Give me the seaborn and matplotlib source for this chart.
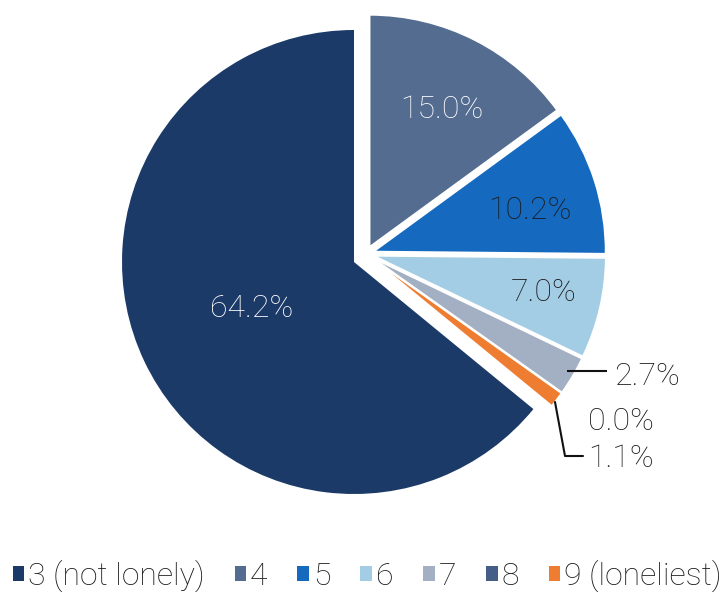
import numpy as np
import matplotlib
matplotlib.use("Agg")
import matplotlib.pyplot as plt
import seaborn as sns
from matplotlib.patches import Patch

# ---- data ----
categories = ["3 (not lonely)", "4", "5", "6", "7", "8", "9 (loneliest)"]
shares = [64.2, 15.0, 10.2, 7.0, 2.7, 0.0, 1.1]
pct_labels = [f"{v:.1f}%" for v in shares]

# ---- style ----
colors = ["#1B3A67", "#536C8F", "#1569BE", "#A3CDE4", "#A3AFC2", "#455E88", "#EE7D31"]
inside_label_r = [0.481, 0.679, 0.70, 0.748]
inside_label_dang = [-2.5, -0.4, -2.0, 1.9]
inside_label_col = ["white", "white", "#1a1a1a", "#1a1a1a"]

sns.set_theme(style="white")
plt.rcParams["font.family"] = ["Roboto", "DejaVu Sans"]
plt.rcParams["font.weight"] = "light"
FS = 23
TXT = "#1a1a1a"

W, H = 727, 592
R = 232.0
CX, CY = 354.0, 262.0
CAP_HALF = 11.5  # px from visual centre of digits to baseline


def p(x, y):
    return ((x - CX) / R, (CY - y) / R)


fig = plt.figure(figsize=(W / 100, H / 100), dpi=100)
ax = fig.add_axes([0, 0, 1, 1])

total = sum(shares)
start = 90 + shares[0] / total * 360

# main slice
w1, _ = ax.pie(shares, colors=[colors[0]] + ["none"] * 6, startangle=start,
               counterclock=False, wedgeprops=dict(linewidth=0))
for w in w1[1:]:
    w.set_visible(False)

# exploded group
gx, gy = 12 / R, 8 / R
w2, _ = ax.pie(shares, colors=["none"] + colors[1:], startangle=start,
               counterclock=False, explode=[0] + [8 / R] * 6, center=(gx, gy),
               wedgeprops=dict(linewidth=1.2, edgecolor="white"))
w2[0].set_visible(False)

wedges = [w1[0]] + list(w2[1:])
for i in range(4):
    w = wedges[i]
    ang = np.deg2rad((w.theta1 + w.theta2) / 2 + inside_label_dang[i])
    cx, cy = w.center
    r = inside_label_r[i]
    ax.text(cx + r * np.cos(ang), cy + r * np.sin(ang) - CAP_HALF / R, pct_labels[i],
            ha="center", va="baseline", color=inside_label_col[i], fontsize=FS)

# outside labels with leader lines
lc = "#111111"
x0, y0 = p(567, 371); x1, y1 = p(607, 371)
ax.plot([x0, x1], [y0, y1], color=lc, lw=1.5, solid_capstyle="butt")
tx, ty = p(614, 385)
ax.text(tx, ty, pct_labels[4], ha="left", va="baseline", color=TXT, fontsize=FS)
tx, ty = p(588, 430)
ax.text(tx, ty, pct_labels[5], ha="left", va="baseline", color=TXT, fontsize=FS)
pts = [p(555, 402), p(565, 456), p(583, 456)]
ax.plot([q[0] for q in pts], [q[1] for q in pts], color=lc, lw=1.5)
tx, ty = p(588, 467)
ax.text(tx, ty, pct_labels[6], ha="left", va="baseline", color=TXT, fontsize=FS)

ax.set_aspect("auto")
ax.set_xlim(-CX / R, (W - CX) / R)
ax.set_ylim(-(H - CY) / R, CY / R)
ax.axis("off")

handles = [Patch(facecolor=c, edgecolor="none") for c in colors]
leg = fig.legend(handles, categories, loc="center", bbox_to_anchor=(0.505, (H - 576) / H),
                 ncol=7, frameon=False, handlelength=0.36, handleheight=0.36,
                 handletextpad=0.12, columnspacing=0.94, borderaxespad=0, borderpad=0,
                 labelcolor=TXT,
                 prop=dict(family=["Roboto", "DejaVu Sans"], weight="light", size=FS))

fig.savefig("out.png", dpi=100, facecolor="white")
